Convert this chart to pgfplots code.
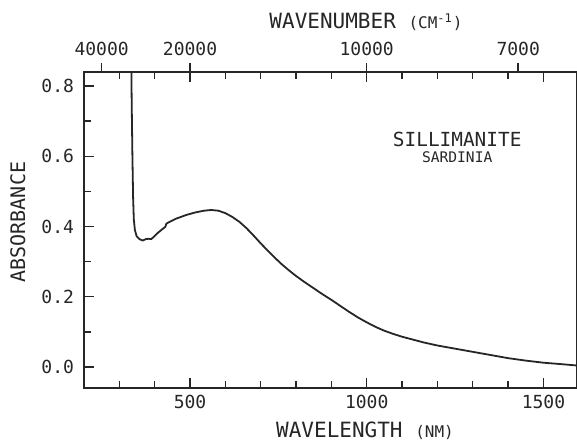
\documentclass[border=0pt]{standalone}
\usepackage{fontspec}
\setmainfont{DejaVu Sans Mono}
\usepackage{pgfplots}
\pgfplotsset{compat=1.18}

% absorbance spectrum: wavelength (nm), absorbance
\pgfplotstableread{
x y
333 0.95
335 0.75
337 0.60
339 0.48
341 0.42
344 0.390
349 0.372
357 0.364
366 0.360
375 0.364
382 0.365
390 0.364
397 0.370
408 0.381
420 0.391
430 0.399
433 0.408
440 0.412
460 0.422
490 0.433
515 0.440
540 0.445
560 0.447
580 0.445
600 0.438
620 0.427
640 0.413
660 0.395
680 0.374
700 0.352
720 0.331
740 0.311
760 0.292
780 0.275
800 0.259
825 0.241
850 0.224
875 0.207
900 0.191
925 0.174
950 0.157
975 0.141
1000 0.127
1025 0.114
1050 0.103
1075 0.094
1100 0.086
1130 0.078
1160 0.070
1200 0.061
1250 0.052
1300 0.043
1350 0.034
1400 0.025
1450 0.018
1500 0.012
1550 0.008
1595 0.004
}\spectrum

\begin{document}
\begin{tikzpicture}
\path[use as bounding box] (-42pt,-27pt) rectangle (246.5pt,194pt);
\pgfplotsset{
  common/.style={
    at={(0,0)}, anchor=south west,
    scale only axis, width=246.5pt, height=158pt,
    xmin=200, xmax=1595, ymin=-0.06, ymax=0.84,
    axis line style={line width=0.7pt, black!85},
    tick style={line width=0.7pt, black!85},
    ticklabel style={font=\fontsize{9}{10}\selectfont, text=black!85},
    /pgf/number format/assume math mode=true,
  }
}
\begin{axis}[
  common,
  xtick={500,1000,1500},
  minor xtick={300,400,...,1500},
  ytick={0,0.2,0.4,0.6,0.8},
  minor ytick={0.1,0.3,0.5,0.7},
  yticklabel style={xshift=-1.5pt, /pgf/number format/.cd, fixed, fixed zerofill, precision=1},
  xticklabel style={/pgf/number format/.cd, 1000 sep={}},
  tick align=inside, xtick pos=both, ytick pos=left,
  major tick length=5pt, minor tick length=3.5pt,
  clip=true,
]
\addplot[line width=0.9pt, black!85, line join=round] table[x=x, y=y] {\spectrum};
\end{axis}
\begin{axis}[
  common,
  axis x line*=top, axis y line=none,
  xtick={250,500,1000,1428.57},
  xticklabels={40000,20000,10000,7000},
  tick align=outside, major tick length=4.5pt,
  clip=false,
]
\node[font=\fontsize{10.5}{12}\selectfont, anchor=base, text=black!85] at (rel axis cs:0.572,1.139)
  {WAVENUMBER {\fontsize{8}{9}\selectfont (CM\textsuperscript{-1})}};
\node[font=\fontsize{10.5}{12}\selectfont, anchor=base, text=black!85] at (rel axis cs:0.570,-0.158)
  {WAVELENGTH {\fontsize{8}{9}\selectfont (NM)}};
\node[font=\fontsize{10}{12}\selectfont, rotate=90, text=black!85] at (rel axis cs:-0.134,0.525)
  {ABSORBANCE};
\node[font=\fontsize{9.7}{11}\selectfont, text=black!85] at (rel axis cs:0.757,0.785) {SILLIMANITE};
\node[font=\fontsize{7.3}{9}\selectfont, text=black!85] at (rel axis cs:0.757,0.731) {SARDINIA};
\end{axis}
\end{tikzpicture}
\end{document}
